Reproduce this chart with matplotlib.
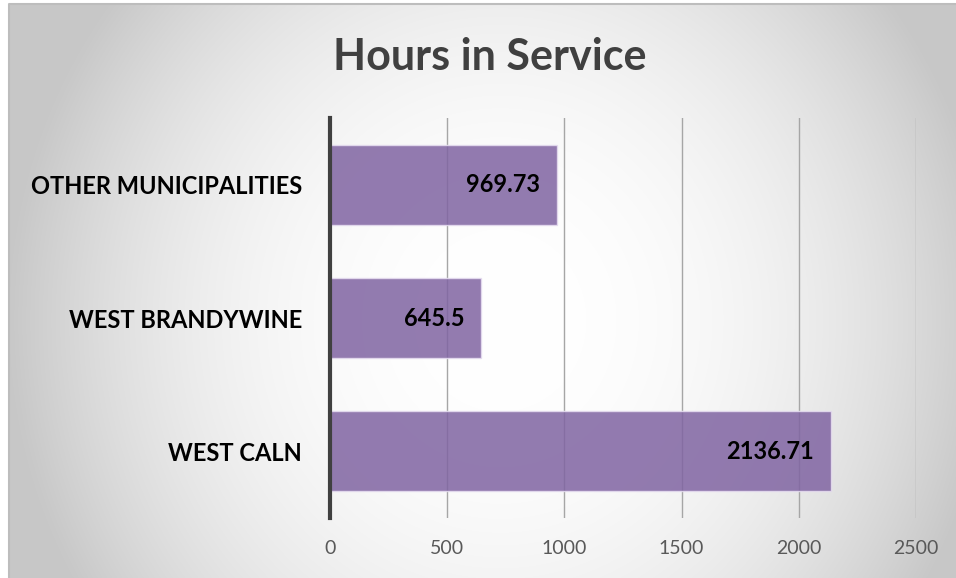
import numpy as np
import matplotlib.pyplot as plt

# data
categories = ['WEST CALN', 'WEST BRANDYWINE', 'OTHER MUNICIPALITIES']
hours = [2136.71, 645.5, 969.73]
x_ticks = [0, 500, 1000, 1500, 2000, 2500]

plt.rcParams['font.family'] = ['Lato', 'DejaVu Sans']

W, H = 956, 578
fig = plt.figure(figsize=(W / 100, H / 100), dpi=100)
fig.patch.set_facecolor('white')

# radial gradient background of the chart frame
x0, y0 = 9, 4
bg = fig.add_axes([x0 / W, 0, 1 - x0 / W, (H - y0) / H], zorder=0)
gx, gy = np.meshgrid(np.arange(x0, W), np.arange(y0, H))
r = np.sqrt(((gx - 500) / 490.0) ** 2 + ((gy - 320) / 520.0) ** 2)
shade = 255 - 55 * np.clip(r, 0, 1) ** 2.3
img = np.dstack([shade, shade, shade]) / 255.0
bg.imshow(img, aspect='auto', extent=[0, 1, 0, 1], origin='upper')
bg.set_xlim(0, 1)
bg.set_ylim(0, 1)
bg.axis('off')
# frame border only shows on top and left
bg.plot([0, 0, 1], [0, 1, 1], color='#BDBDBD', linewidth=1.5,
        transform=bg.transAxes, clip_on=False)

# main plot
ax = fig.add_axes([330 / W, 1 - 518 / H, 586 / W, 400 / H], zorder=1)
ax.patch.set_alpha(0)
y = np.arange(len(categories))
ax.barh(y, hours, height=0.6, color='#8064A2', alpha=0.85,
        edgecolor='#E6DDF0', linewidth=1.0, zorder=2)

for yi, v in zip(y, hours):
    ax.text(v - 72, yi, f'{v:g}', ha='right', va='center',
            fontsize=17, fontweight='bold', color='black', zorder=3)

ax.set_xlim(0, 2500)
ax.set_ylim(-0.5, 2.5)
ax.set_xticks(x_ticks)
ax.set_xticklabels([str(t) for t in x_ticks])
ax.set_yticks(y)
ax.set_yticklabels(categories, fontsize=17, fontweight='bold', color='black')
ax.tick_params(axis='x', length=0, pad=16, labelsize=14, labelcolor='#595959')
ax.tick_params(axis='y', length=0, pad=20)

ax.grid(axis='x', color='#A6A6A6', linewidth=1.0, zorder=1)
ax.set_axisbelow(True)
for s in ['top', 'right', 'bottom']:
    ax.spines[s].set_visible(False)
ax.spines['left'].set_color('#404040')
ax.spines['left'].set_linewidth(3)
ax.spines['left'].set_zorder(4)

fig.text(490 / W, 1 - 57 / H, 'Hours in Service', ha='center', va='center',
         fontsize=31, fontweight='bold', color='#404040')

fig.savefig('out.png', dpi=100)
